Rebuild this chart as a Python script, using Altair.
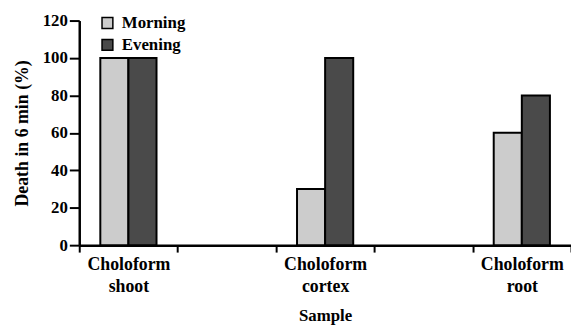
import altair as alt
import pandas as pd

samples = ["Choloform shoot", "gap1", "Choloform cortex", "gap2", "Choloform root"]
bar_samples = ["Choloform shoot", "Choloform shoot", "Choloform cortex", "Choloform cortex", "Choloform root", "Choloform root"]
times = ["Morning", "Evening", "Morning", "Evening", "Morning", "Evening"]
values = [100, 100, 30, 100, 60, 80]

df = pd.DataFrame({"Sample": bar_samples, "Time": times, "Death": values})

FONT = "Liberation Serif"

chart = alt.Chart(df).mark_bar(stroke="black", strokeWidth=2).encode(
    x=alt.X("Sample:N", sort=samples,
            scale=alt.Scale(domain=samples, paddingInner=0, paddingOuter=0),
            axis=alt.Axis(title="Sample", labelAngle=0, tickBand="extent",
                          labelExpr="indexof(datum.label, 'gap') == 0 ? '' : split(datum.label, ' ')",
                          labelFontSize=18, labelFont=FONT, labelFontWeight="bold", labelColor="black",
                          labelPadding=4, labelLineHeight=22,
                          titleFontSize=17, titleFont=FONT, titleFontWeight="bold", titleColor="black",
                          titlePadding=12,
                          domainColor="black", domainWidth=2.5, tickColor="black", tickWidth=2, tickSize=7)),
    xOffset=alt.XOffset("Time:N", sort=["Morning", "Evening"],
                        scale=alt.Scale(paddingInner=0, paddingOuter=0.75)),
    y=alt.Y("Death:Q", scale=alt.Scale(domain=[0, 120]),
            axis=alt.Axis(title="Death in 6 min (%)", values=[0, 20, 40, 60, 80, 100, 120],
                          grid=False, labelFontSize=17, labelFont=FONT, labelFontWeight="bold",
                          labelColor="black", labelPadding=2,
                          titleFontSize=18, titleFont=FONT, titleFontWeight="bold", titleColor="black",
                          titlePadding=11,
                          domainColor="black", domainWidth=2.5, tickColor="black", tickWidth=2, tickSize=10)),
    color=alt.Color("Time:N", sort=["Morning", "Evening"],
                    scale=alt.Scale(domain=["Morning", "Evening"], range=["#cccccc", "#4a4a4a"]),
                    legend=alt.Legend(title=None, orient="none", legendX=20, legendY=-6,
                                      symbolType="square", symbolSize=120, symbolStrokeColor="black",
                                      symbolStrokeWidth=1.5, labelFontSize=17, labelFont=FONT,
                                      labelFontWeight="bold",
                                      labelColor="black", rowPadding=4, labelOffset=6)),
).properties(
    width=497, height=227,
    padding={"left": 72, "top": 11, "right": 0, "bottom": 80},
    autosize=alt.AutoSizeParams(type="none"),
).configure(font=FONT).configure_view(stroke=None)

chart.save("out.html", embed_options={"renderer": "svg", "actions": False})
